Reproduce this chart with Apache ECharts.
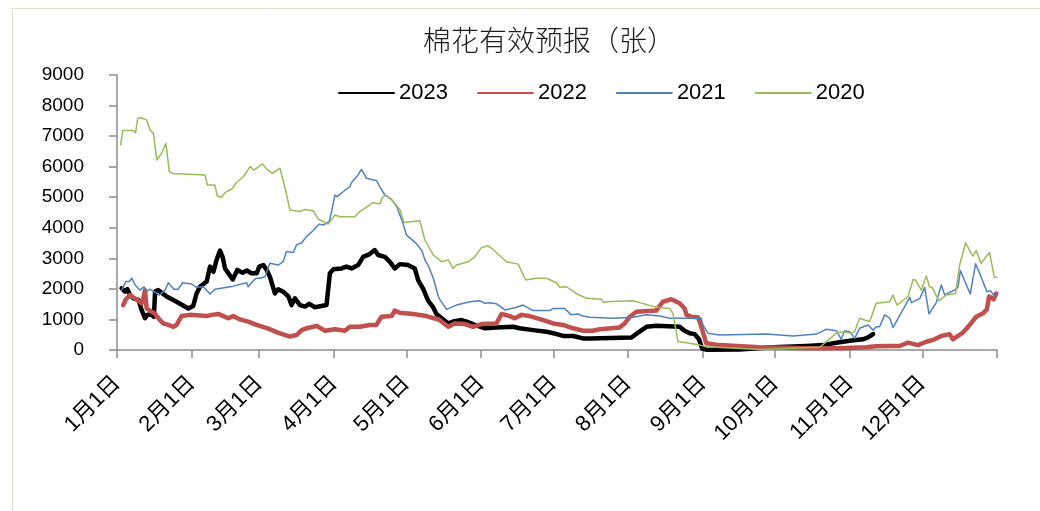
<!DOCTYPE html>
<html>
<head>
<meta charset="utf-8">
<title>棉花有效预报（张）</title>
<script src="https://cdn.jsdelivr.net/npm/echarts@6/dist/echarts.min.js"></script>
<style>
  html, body { margin: 0; padding: 0; background: #ffffff; }
  #chart { width: 1040px; height: 511px; }
</style>
</head>
<body>
<div id="chart"></div>
<script>
// Day-of-year positions (0 = 1月1日) and warehouse receipt counts per year
const days2023 = [1.9,3.3,4.3,5.4,6.8,8.9,10.2,11.6,12.6,14.4,15.3,15.8,17.1,20.6,24.7,29.6,31.6,33,34.4,37.2,38.6,40,41.3,42.7,43.8,44.8,46.2,48,49.9,52.1,53.8,55.8,57.9,59,60.7,62.1,63.4,65.5,66.9,68.9,71.1,72.4,73.8,75.9,78,79.7,82.1,86.9,88.3,89.7,93.1,95.2,97.3,100,102.1,104.8,106.9,108.3,111.1,113.1,115.2,117.3,120.7,123.5,124.9,127,129,131.1,132.5,135.3,137.4,139.4,142.9,145,148.4,152.6,157.4,164.3,167,172.6,178.1,180.9,185,189.2,193.3,196.1,213.4,216.1,219.6,223.7,233.4,235.4,237.5,239.6,241.4,242.7,244.4,258,272.1,285.9,292.8,298.4,303.9,309.4,311.5,313.6];
const vals2023 = [2020,1910,1990,1800,1690,1640,1310,1040,1150,1150,1090,1910,1960,1750,1580,1360,1440,1850,2070,2240,2730,2560,2950,3250,3050,2670,2510,2310,2620,2530,2600,2510,2510,2730,2780,2620,2400,1850,1990,1910,1750,1470,1690,1470,1420,1510,1400,1470,2510,2640,2670,2730,2670,2780,3050,3140,3270,3110,3050,2890,2670,2810,2780,2670,2290,2000,1620,1400,1180,1000,870,930,980,930,820,710,740,760,710,650,600,550,460,460,380,380,410,570,760,790,760,630,550,520,350,50,10,20,90,130,160,240,300,350,410,520];

const days2022 = [2.6,3.7,5.4,6.8,8.4,10.2,10.9,11.6,12.3,13.7,15.8,17.8,19.2,21.3,23.4,24.7,26.8,30.3,37.2,39.3,42,44.1,46.2,48.2,51,54.4,57.9,62.5,67,71.7,74.5,76.6,78.6,81.4,82.8,86.3,90.4,94.5,96.6,100.7,104.8,107.6,109.7,113.9,115.2,117.3,122.8,128.4,130,133.5,137.4,140.1,144.3,147.7,151.2,157.4,159.5,162.9,165,167.8,171.2,176.8,180.9,185,189.2,193.3,197.4,200.2,208.5,210.6,212.7,215.4,223.7,226.4,229.9,233.4,235.4,236.2,238.2,241,242.4,244.4,249.9,266.5,285.9,299.7,310.7,314.9,320.5,324.6,328.1,332.2,335.7,339.1,341.9,345.3,346.7,348.8,350.9,353.7,356.4,359.2,360.8,361.7,363.6,364.7];
const vals2022 = [1470,1660,1800,1720,1640,1530,1690,1960,1360,1290,1180,980,870,820,760,820,1110,1150,1110,1150,1180,1110,1040,1110,1000,930,820,710,560,440,490,650,710,760,790,630,680,630,760,760,820,820,1090,1110,1290,1220,1180,1110,1070,1000,760,870,850,760,850,870,1180,1110,1040,1150,1110,980,870,820,710,630,630,680,740,870,1090,1250,1290,1580,1660,1530,1360,1150,1090,1070,760,220,160,90,55,55,90,120,130,130,240,160,270,350,460,520,350,460,570,820,1090,1200,1330,1750,1660,1850];

const days2021 = [1.9,3.7,5.1,6.1,7.5,9.5,11.2,12.3,13.7,17.6,19.9,21.3,23.6,25.4,27.2,30.9,33,35.8,38.6,40.6,48.2,53.8,54.4,56.8,57.9,59.3,61.4,63.4,66.9,68.9,70.3,73.1,74.5,76.6,78.6,81.4,83.9,85.5,88,89,90.4,91.3,93.8,96.6,97.3,100,101.4,103.5,107.7,109,111.1,113.9,116,118.4,120.1,124.1,126.5,127.7,129,131.2,133.3,134,136.7,140.8,146.4,150.5,152.6,154.7,157.4,160.9,165.7,168.4,172.6,179.5,180.9,185.7,188.4,191.2,193.3,196.1,205.8,214,219.6,225.1,229.2,242.3,243,245.1,249.9,269.4,280.4,290.1,292.2,294.2,298.4,300.4,301.8,303.9,306,308,311.5,313.6,314.9,316.3,318.4,320.5,321.9,326.7,328.8,329.5,333,335,336.8,339.8,341.9,343.3,347.4,348.8,349.8,353.9,356.1,357.8,360.8,362.2,364,364.9];
const vals2021 = [1960,2240,2240,2350,2130,1960,2070,1910,1990,1800,1960,2200,1990,1990,2200,2160,2050,2070,1830,1990,2090,2200,2070,2290,2350,2350,2400,2840,2780,2890,3220,3190,3440,3510,3710,3910,4120,4090,4200,4530,5070,5020,5180,5350,5480,5730,5910,5620,5540,5350,5070,4930,4690,4200,3760,3490,3250,2950,2780,2350,1750,1640,1330,1470,1580,1610,1530,1550,1510,1310,1400,1470,1290,1290,1360,1360,1150,1180,1110,1070,1040,1070,1150,1110,1040,1040,820,550,490,520,460,520,600,680,630,350,630,600,380,710,820,650,760,760,1150,1040,740,1420,1720,1550,1690,2050,1180,1550,2130,1800,1960,2050,2600,1830,2820,2510,1910,1940,1770,1800];

const days2020 = [1.5,2.4,6.8,7.7,8.6,9.8,12.3,13.7,15.1,16.5,18.5,20.3,21.7,23.1,36.5,37.5,40.6,41.6,43.4,44.8,47.5,49.6,52.4,55.2,56.8,60.4,62.1,64.5,67.6,70.1,71.7,75.9,77.9,81.4,83.5,87.6,90.4,92.5,98.6,100.7,106.3,109,110.1,111.5,113.9,117.3,119,125.6,127.7,131.2,134.6,137.4,139.4,140.8,145.7,148.4,151.2,153.9,156,161.5,166.4,169.5,173.9,178.1,182.3,183.6,186.4,190.5,194.7,200.9,201.9,203,214,216.8,223.7,229.2,230.6,232.7,236.2,241.7,244.4,266.5,291.5,294.2,298.4,301.1,304.6,305.9,308,310.1,312.2,314.9,320.5,321.8,323.5,328.1,330.2,331.2,333.6,335.7,337,338.1,340.9,343.9,347.8,349.5,352,354.3,355,356.4,358.4,361.9,363.9,364.9];
const vals2020 = [6710,7180,7180,7110,7580,7600,7530,7200,7090,6220,6440,6760,5840,5780,5730,5400,5400,5040,5000,5150,5260,5480,5670,6000,5890,6090,5910,5780,5950,5180,4580,4530,4600,4560,4280,4120,4420,4360,4360,4530,4820,4780,5000,5070,4910,4600,4170,4230,3600,3110,2890,2950,2670,2780,2890,3050,3350,3410,3290,2890,2810,2290,2350,2350,2200,2050,2070,1850,1690,1660,1550,1580,1610,1550,1400,1360,1200,270,240,160,110,20,90,270,550,600,550,600,1040,980,930,1530,1580,1800,1470,1750,2310,2290,1960,2420,2070,2050,1610,1800,1850,2780,3510,3160,3080,3250,2840,3190,2380,2380];

// Month boundaries on the day axis and their labels
const monthTicks = [0,31,59,90,120,151,181,212,243,273,304,334,365];
const monthLabels = ['1月1日','2月1日','3月1日','4月1日','5月1日','6月1日','7月1日','8月1日','9月1日','10月1日','11月1日','12月1日'];
const yTicks = [0,1000,2000,3000,4000,5000,6000,7000,8000,9000];

const seriesDefs = [
  { name: '2023', days: days2023, vals: vals2023, color: '#000000', width: 4.5 },
  { name: '2022', days: days2022, vals: vals2022, color: '#c0504d', width: 4.5 },
  { name: '2021', days: days2021, vals: vals2021, color: '#4f81bd', width: 1.5 },
  { name: '2020', days: days2020, vals: vals2020, color: '#9bbb59', width: 1.5 }
];

const labelFont = '"Liberation Sans", "Noto Sans CJK SC", sans-serif';
const axisGrey = '#8c8c8c';

const chart = echarts.init(document.getElementById('chart'), null, { renderer: 'canvas' });
chart.setOption({
  animation: false,
  backgroundColor: '#ffffff',
  graphic: [
    {
      type: 'polyline',
      shape: { points: [[12.5, 511], [12.5, 8.5], [1040, 8.5]] },
      style: { stroke: '#e2dfd2', lineWidth: 1, fill: null },
      silent: true
    },
    {
      type: 'text',
      x: 549,
      y: 40,
      style: {
        text: '棉花有效预报（张）',
        fontSize: 28,
        fontFamily: '"Noto Sans CJK SC", sans-serif',
        fontWeight: 300,
        fill: '#1a1a1a',
        align: 'center',
        verticalAlign: 'middle'
      },
      silent: true
    }
  ],
  legend: {
    data: seriesDefs.map(s => s.name),
    left: 338,
    top: 82,
    padding: 0,
    itemWidth: 55,
    itemHeight: 12,
    itemGap: 29,
    itemStyle: { opacity: 0 },
    textStyle: { fontSize: 22, color: '#000', fontFamily: labelFont, padding: [0, 0, 0, 0] }
  },
  grid: { left: 117, right: 43, top: 75, bottom: 161 },
  xAxis: {
    type: 'value',
    min: 0,
    max: 365,
    splitLine: { show: false },
    axisLine: { show: true, lineStyle: { color: axisGrey, width: 1.5 } },
    axisTick: {
      show: true,
      customValues: monthTicks,
      length: 8,
      lineStyle: { color: axisGrey, width: 1.5 }
    },
    axisLabel: {
      customValues: monthTicks.slice(0, 12),
      formatter: function (v) {
        const i = monthTicks.indexOf(Math.round(v));
        return i >= 0 && i < monthLabels.length ? monthLabels[i] : '';
      },
      rotate: 45,
      margin: 30,
      fontSize: 22,
      color: '#000',
      fontFamily: labelFont
    }
  },
  yAxis: {
    type: 'value',
    min: 0,
    max: 9000,
    interval: 1000,
    splitLine: { show: false },
    axisLine: { show: true, lineStyle: { color: axisGrey, width: 1.5 } },
    axisTick: { show: true, length: 8, lineStyle: { color: axisGrey, width: 1.5 } },
    axisLabel: {
      customValues: yTicks,
      formatter: function (v) { return String(v); },
      margin: 33,
      fontSize: 19,
      color: '#000',
      fontFamily: labelFont
    }
  },
  series: seriesDefs.map(s => ({
    name: s.name,
    type: 'line',
    symbol: 'none',
    showSymbol: false,
    data: s.days.map((d, i) => [d, s.vals[i]]),
    itemStyle: { color: s.color },
    lineStyle: { color: s.color, width: s.width, join: 'round', cap: 'round' },
    emphasis: { disabled: true }
  }))
});
</script>
</body>
</html>
